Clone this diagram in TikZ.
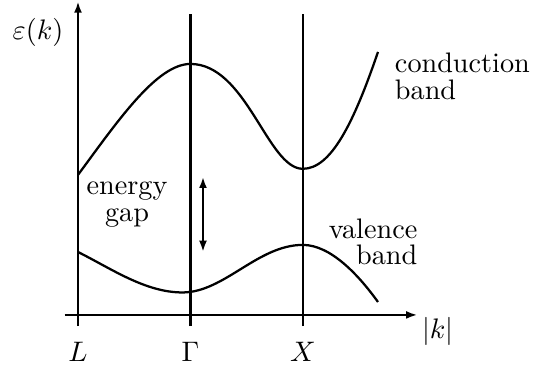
\documentclass[tikz,border=0pt]{standalone}
\usetikzlibrary{arrows.meta}

\begin{document}
\begin{tikzpicture}[x=1.4cm, y=1.4cm,
    axis/.style={thick, -{Latex[length=4pt, width=2.8pt]}},
    symline/.style={thick},
    band/.style={thick},
    gaparrow/.style={thick, {Latex[length=4pt, width=2.8pt]}-{Latex[length=4pt, width=2.8pt]}},
    lbl/.style={align=center, inner sep=0pt, font=\fontsize{10pt}{9.5pt}\selectfont}
  ]
  \useasboundingbox (-0.694,-0.489) rectangle (4.048,2.802);

  % Symmetry points and axes
  \coordinate (Lbot) at (0,-0.1);
  \coordinate (Ltop) at (0,2.79);
  \coordinate (Gbot) at (1,-0.1);
  \coordinate (Gtop) at (1,2.68);
  \coordinate (Xbot) at (2,-0.1);
  \coordinate (Xtop) at (2,2.68);
  \coordinate (kleft) at (-0.12,0);
  \coordinate (kright) at (3.02,0);

  \draw[axis] (Lbot) -- (Ltop);
  \draw[symline] (Gbot) -- (Gtop);
  \draw[symline] (Xbot) -- (Xtop);
  \draw[axis] (kleft) -- (kright);

  % Conduction band
  \draw[band] (0,1.246) .. controls (0.35,1.72) and (0.7,2.233) .. (1,2.233)
    .. controls (1.5,2.233) and (1.687,1.3) .. (2,1.3)
    .. controls (2.25,1.3) and (2.45,1.7) .. (2.669,2.34);
  % Valence band
  \draw[band] (0,0.56) .. controls (0.3,0.41) and (0.6,0.2) .. (0.93,0.2)
    .. controls (1.3,0.2) and (1.6,0.623) .. (2,0.623)
    .. controls (2.25,0.623) and (2.5,0.35) .. (2.669,0.115);

  % Energy gap arrow
  \coordinate (gaptop) at (1.112,1.23);
  \coordinate (gapbot) at (1.112,0.56);
  \draw[gaparrow] (gaptop) -- (gapbot);

  % Labels
  \node[lbl] (eps) at (-0.356,2.509) {$\varepsilon(k)$};
  \node[lbl] (Llbl) at (0,-0.33) {$L$};
  \node[lbl] (Glbl) at (1,-0.33) {$\Gamma$};
  \node[lbl] (Xlbl) at (2,-0.33) {$X$};
  \node[lbl] (kabs) at (3.20,-0.145) {$|k|$};
  \node[lbl, align=left] (cond) at (3.42,2.126) {conduction\\band};
  \node[lbl] (gap) at (0.436,0.979) {energy\\gap};
  \node[lbl, align=right] (val) at (2.625,0.65) {valence\\band};
\end{tikzpicture}
\end{document}
